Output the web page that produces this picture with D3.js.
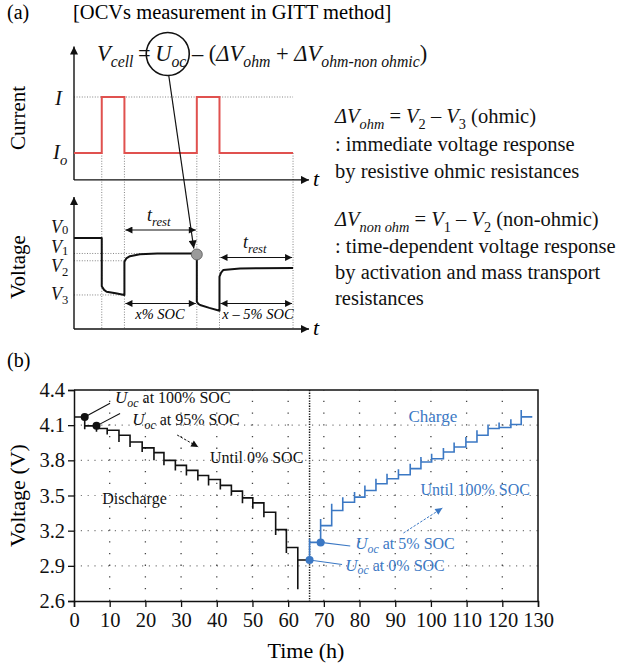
<!DOCTYPE html>
<html>
<head>
<meta charset="utf-8">
<script src="https://cdn.jsdelivr.net/npm/d3@7"></script>
<style>
  body { margin: 0; background: #fff; }
  svg text { font-family: "Liberation Serif", "Times New Roman", serif; white-space: pre; }
</style>
</head>
<body>
<svg id="fig" width="626" height="667"></svg>
<script>
// ---------- panel (b) data: GITT voltage record ----------
// discharge: pulse start times (h), rest levels (V), bottom of each pulse spike (V)
const disTimes = [3.0, 6.3, 9.3, 12.6, 15.7, 19.1, 22.4, 25.2, 28.4, 31.5, 34.7, 37.7, 41.0, 44.1, 47.2, 50.1, 53.2, 56.5, 59.5, 62.7]
const disLevels = [4.17, 4.094, 4.071, 4.057, 4.014, 3.957, 3.906, 3.866, 3.80, 3.757, 3.714, 3.671, 3.637, 3.586, 3.537, 3.48, 3.437, 3.357, 3.209, 3.057, 2.95]
const disSpikes = [4.066, 4.043, 4.02, 3.957, 3.914, 3.871, 3.80, 3.757, 3.714, 3.671, 3.629, 3.586, 3.551, 3.50, 3.434, 3.386, 3.314, 3.163, 3.009, 2.70]
const disEnd = 66

// charge: pulse start times (h), rest levels (V), top of each pulse spike (V)
const chgTimes = [66.0, 69.1, 72.2, 75.3, 78.6, 81.5, 84.6, 87.7, 90.9, 94.2, 97.2, 100.2, 103.5, 106.5, 109.8, 112.9, 116.0, 119.1, 122.4, 125.3]
const chgLevels = [2.95, 3.10, 3.243, 3.372, 3.443, 3.486, 3.543, 3.60, 3.643, 3.677, 3.729, 3.786, 3.814, 3.871, 3.914, 3.957, 4.014, 4.071, 4.08, 4.106, 4.171]
const chgSpikes = [3.13, 3.30, 3.43, 3.486, 3.529, 3.586, 3.643, 3.686, 3.723, 3.771, 3.829, 3.857, 3.906, 3.952, 4.0, 4.057, 4.106, 4.123, 4.151, 4.229]
const chgEnd = 128.4

const switchTime = 66
const xTicks = [0, 10, 20, 30, 40, 50, 60, 70, 80, 90, 100, 110, 120, 130]
const yTicks = [2.6, 2.9, 3.2, 3.5, 3.8, 4.1, 4.4]

// OCV markers and their labels (label anchor = where the leader line ends)
const uocLabels = ["100%", "95%", "0%", "5%"]
const uocT = [3.0, 6.3, 66.0, 69.1]
const uocV = [4.17, 4.094, 2.95, 3.10]
const uocLeadT = [10.1, 12.9, 75.1, 77.4]
const uocLeadV = [4.287, 4.20, 2.912, 3.069]
const uocTextT = [11.5, 16.3, 76.0, 78.8]
const uocTextV = [4.289, 4.10, 2.858, 3.045]

// ---------- panel (a) schematic data (arbitrary units) ----------
const pulses = [[1.2, 2.18], [5.31, 6.29]]
const schemEnd = 9.47
const volT = [0, 1.2, 1.2, 1.3, 1.41, 1.8, 2.18, 2.18, 2.26, 2.42, 2.85, 3.6, 5.31, 5.31, 5.38, 5.45, 5.85, 6.29, 6.29, 6.36, 6.45, 7.18, 8.0, 9.47]
const volV = [1.0, 1.0, 0.47, 0.43, 0.41, 0.392, 0.374, 0.74, 0.775, 0.80, 0.822, 0.83, 0.83, 0.30, 0.275, 0.264, 0.232, 0.20, 0.575, 0.62, 0.648, 0.665, 0.668, 0.67]
const vLevels = [1.0, 0.83, 0.75, 0.374]

const svg = d3.select("#fig")
const ink = "#111"
const blue = "#3b78c4"
const red = "#e0514f"

const defs = svg.append("defs")
function arrowMarker(id, color, w, h) {
  defs.append("marker")
    .attr("id", id)
    .attr("viewBox", "0 0 10 10")
    .attr("refX", 10).attr("refY", 5)
    .attr("markerUnits", "userSpaceOnUse")
    .attr("markerWidth", w).attr("markerHeight", h)
    .attr("orient", "auto-start-reverse")
    .append("path").attr("d", "M0,0L10,5L0,10Z").attr("fill", color)
}
arrowMarker("arr", ink, 10, 8)
arrowMarker("arrS", ink, 8, 7)
arrowMarker("arrB", blue, 8, 7)

// rich text with italic / subscript parts: [text, flags] flags: i = italic, s = subscript
function rich(sel, x, y, size, parts, fill, anchor, drop) {
  const txt = sel.append("text").attr("x", x).attr("y", y)
    .attr("font-size", size).attr("fill", fill || ink)
    .attr("text-anchor", anchor || "start")
  let cur = 0
  parts.forEach(([s, f = ""]) => {
    const off = f.includes("s") ? size * (drop || 0.28) : 0
    const span = txt.append("tspan").text(s).attr("dy", off - cur)
    cur = off
    if (f.includes("i")) span.attr("font-style", "italic")
    if (f.includes("s")) span.attr("font-size", size * 0.7)
  })
  return txt
}

// =================== panel (a) ===================
const gA = svg.append("g")
gA.append("text").attr("x", 7).attr("y", 19).attr("font-size", 20).text("(a)")
gA.append("text").attr("x", 73).attr("y", 19).attr("font-size", 20.5).text("[OCVs measurement in GITT method]")

const xA = d3.scaleLinear([0, 10], [74, 305.3])
const yCur = d3.scaleLinear([0, 1], [153, 97])
const yVol = d3.scaleLinear([0, 1], [329, 238])

// dotted guide lines
function guide(x1, y1, x2, y2) {
  gA.append("line").attr("x1", x1).attr("y1", y1).attr("x2", x2).attr("y2", y2)
    .attr("stroke", "#777").attr("stroke-width", 0.9).attr("stroke-dasharray", "1,1.6")
}
guide(xA(0), yCur(1), xA(schemEnd), yCur(1))
pulses.flat().concat([schemEnd]).forEach(t => guide(xA(t), yCur(0), xA(t), yVol(0)))
guide(xA(0), yVol(vLevels[1]), xA(pulses[1][0]), yVol(vLevels[1]))
guide(xA(0), yVol(vLevels[2]), xA(pulses[0][1]), yVol(vLevels[2]))
guide(xA(0), yVol(vLevels[3]), xA(pulses[0][1]), yVol(vLevels[3]))

// axes with arrows
function axisArrow(x1, y1, x2, y2) {
  gA.append("line").attr("x1", x1).attr("y1", y1).attr("x2", x2).attr("y2", y2)
    .attr("stroke", ink).attr("stroke-width", 1.4).attr("marker-end", "url(#arr)")
}
axisArrow(xA(0), yCur(-0.48), xA(0), yCur(1.9))
axisArrow(xA(0), yCur(-0.48), 309, yCur(-0.48))
axisArrow(xA(0), yVol(0), xA(0), yVol(1.45))
axisArrow(xA(0), yVol(0), 309, yVol(0))
gA.append("text").attr("x", 313).attr("y", yCur(-0.48) + 6).attr("font-size", 22).attr("font-style", "italic").text("t")
gA.append("text").attr("x", 313).attr("y", yVol(0) + 6).attr("font-size", 22).attr("font-style", "italic").text("t")

gA.append("text").attr("transform", "translate(25,118) rotate(-90)").attr("text-anchor", "middle")
  .attr("font-size", 21).text("Current")
gA.append("text").attr("transform", "translate(25,267) rotate(-90)").attr("text-anchor", "middle")
  .attr("font-size", 21).text("Voltage")

rich(gA, 55, 105, 21, [["I", "i"]])
rich(gA, 53, 159, 21, [["I", "i"], ["o", "is"]])
rich(gA, 51, 233, 18, [["V", "i"], ["0", "s"]], ink, "start", 0.08)
rich(gA, 51, 253, 18, [["V", "i"], ["1", "s"]], ink, "start", 0.1)
rich(gA, 51, 272, 18, [["V", "i"], ["2", "s"]], ink, "start", 0.2)
rich(gA, 51, 300, 18, [["V", "i"], ["3", "s"]], ink, "start", 0.22)

// current pulses
const curPts = [[0, 0]]
pulses.forEach(([a, b]) => curPts.push([a, 0], [a, 1], [b, 1], [b, 0]))
curPts.push([schemEnd, 0])
gA.append("path")
  .attr("d", d3.line().x(d => xA(d[0])).y(d => yCur(d[1]))(curPts))
  .attr("fill", "none").attr("stroke", red).attr("stroke-width", 2)

// voltage response
gA.append("path")
  .attr("d", d3.line().x((d, i) => xA(volT[i])).y((d, i) => yVol(volV[i]))(volT))
  .attr("fill", "none").attr("stroke", ink).attr("stroke-width", 2).attr("stroke-linejoin", "round")

// double arrows
function dbl(t1, t2, y) {
  gA.append("line").attr("x1", xA(t1) + 1).attr("x2", xA(t2) - 1).attr("y1", y).attr("y2", y)
    .attr("stroke", ink).attr("stroke-width", 1.2)
    .attr("marker-start", "url(#arrS)").attr("marker-end", "url(#arrS)")
}
dbl(pulses[0][1], pulses[1][0], 230)
dbl(pulses[1][1], schemEnd, 257.5)
dbl(pulses[0][1], pulses[1][0], 303.5)
dbl(pulses[1][1], schemEnd, 303.5)
rich(gA, 147, 221, 18, [["t", "i"], ["rest", "is"]])
rich(gA, 243, 248, 18, [["t", "i"], ["rest", "is"]])
gA.append("text").attr("x", 160).attr("y", 319).attr("text-anchor", "middle")
  .attr("font-size", 14.5).attr("font-style", "italic").text("x% SOC")
gA.append("text").attr("x", 258).attr("y", 319).attr("text-anchor", "middle")
  .attr("font-size", 14.5).attr("font-style", "italic").text("x – 5% SOC")

// formula with U_oc circled
const formula = rich(gA, 97, 61, 22.5, [["V", "i"], ["cell", "is"], ["\u2009=\u2009"], ["U", "i"], ["oc", "is"], [" – ("], ["ΔV", "i"], ["ohm", "is"],
  [" + "], ["ΔV", "i"], ["ohm-non ohmic", "is"], [")"]])
let ringX = 160
try {
  const spans = formula.selectAll("tspan").nodes()
  const bU = spans[3].getBBox(), bO = spans[4].getBBox()
  ringX = (bU.x + bO.x + bO.width) / 2 - 3
} catch (e) { }
gA.append("circle").attr("cx", ringX).attr("cy", 54).attr("r", 21.5)
  .attr("fill", "none").attr("stroke", ink).attr("stroke-width", 1.6)
gA.append("circle").attr("cx", xA(pulses[1][0])).attr("cy", yVol(vLevels[1]) + 1).attr("r", 5.5)
  .attr("fill", "#9a9a9a").attr("stroke", "#555").attr("stroke-width", 0.8)
gA.append("line").attr("x1", ringX + 1).attr("y1", 75.5)
  .attr("x2", xA(pulses[1][0]) - 3).attr("y2", yVol(vLevels[1]) - 5)
  .attr("stroke", ink).attr("stroke-width", 1.2).attr("marker-end", "url(#arr)")

// explanation text
const ex = 335
const exSize = 20.5
rich(gA, ex, 123, exSize, [["ΔV", "i"], ["ohm", "is"], [" = "], ["V", "i"], ["2", "s"], [" – "], ["V", "i"], ["3", "s"], [" (ohmic)"]])
rich(gA, ex, 151, exSize, [[": immediate voltage response"]])
rich(gA, ex, 178, exSize, [["by resistive ohmic resistances"]])
rich(gA, ex, 226, exSize, [["ΔV", "i"], ["non ohm", "is"], [" = "], ["V", "i"], ["1", "s"], [" – "], ["V", "i"], ["2", "s"], [" (non-ohmic)"]])
rich(gA, ex, 253, exSize, [[": time-dependent voltage response"]])
rich(gA, ex, 279, exSize, [["by activation and mass transport"]])
rich(gA, ex, 305, exSize, [["resistances"]])

// =================== panel (b) ===================
const gB = svg.append("g")
gB.append("text").attr("x", 7).attr("y", 367).attr("font-size", 20).text("(b)")

const x = d3.scaleLinear([0, 130], [74, 538])
const y = d3.scaleLinear([2.6, 4.4], [601, 390])

// grid
gB.append("g").selectAll("line").data(yTicks.slice(1, -1)).join("line")
  .attr("x1", x(0)).attr("x2", x(130)).attr("y1", d => y(d)).attr("y2", d => y(d))
  .attr("stroke", "#7a7a7a").attr("stroke-width", 1.2).attr("stroke-dasharray", "1.2,5.6")
gB.append("g").selectAll("line").data(xTicks.slice(1, -1)).join("line")
  .attr("x1", d => x(d)).attr("x2", d => x(d)).attr("y1", y(2.6)).attr("y2", y(4.4))
  .attr("stroke", "#444").attr("stroke-width", 1.3).attr("stroke-dasharray", "1.3,10.4")

// switch line
gB.append("line").attr("x1", x(switchTime)).attr("x2", x(switchTime)).attr("y1", y(4.4)).attr("y2", y(2.6))
  .attr("stroke", ink).attr("stroke-width", 1.5).attr("stroke-dasharray", "1.3,1.3")

// axes
const axB = gB.append("g").attr("transform", `translate(0,${y(2.6)})`)
  .call(d3.axisBottom(x).tickValues(xTicks).tickSize(6).tickPadding(5).tickFormat(d3.format("d")))
const axL = gB.append("g").attr("transform", `translate(${x(0)},0)`)
  .call(d3.axisLeft(y).tickValues(yTicks).tickSize(6).tickPadding(3).tickFormat(d3.format(".1f")))
;[axB, axL].forEach(a => {
  a.select(".domain").attr("stroke", ink).attr("stroke-width", 1.5)
  a.selectAll(".tick line").attr("stroke", ink).attr("stroke-width", 1.3)
  a.selectAll(".tick text").attr("font-size", 20.5).attr("fill", ink)
})
gB.append("path")
  .attr("d", `M${x(0)},${y(4.4)}H${x(130)}V${y(2.6)}`)
  .attr("fill", "none").attr("stroke", ink).attr("stroke-width", 1.5)

gB.append("text").attr("x", (x(0) + x(130)) / 2).attr("y", 658).attr("text-anchor", "middle")
  .attr("font-size", 22).text("Time (h)")
gB.append("text").attr("transform", `translate(25,${(y(2.6) + y(4.4)) / 2}) rotate(-90)`)
  .attr("text-anchor", "middle").attr("font-size", 22).text("Voltage (V)")

// step curves
function stepPoints(times, levels, spikes, tEnd) {
  const pts = [[times[0] === switchTime ? switchTime : 0, levels[0]]]
  times.forEach((t, i) => pts.push([t, levels[i]], [t, spikes[i]], [t, levels[i + 1]]))
  pts.push([tEnd, levels[levels.length - 1]])
  return pts
}
const stepLine = d3.line().x(d => x(d[0])).y(d => y(d[1]))
gB.append("path").attr("d", stepLine(stepPoints(disTimes, disLevels, disSpikes, disEnd)))
  .attr("fill", "none").attr("stroke", ink).attr("stroke-width", 1.6)
gB.append("path").attr("d", stepLine(stepPoints(chgTimes, chgLevels, chgSpikes, chgEnd)))
  .attr("fill", "none").attr("stroke", blue).attr("stroke-width", 1.6)

// OCV markers with labels
uocLabels.forEach((lab, i) => {
  const col = uocT[i] >= switchTime ? blue : ink
  gB.append("line").attr("x1", x(uocT[i])).attr("y1", y(uocV[i]))
    .attr("x2", x(uocLeadT[i])).attr("y2", y(uocLeadV[i]))
    .attr("stroke", col).attr("stroke-width", 1.1)
  gB.append("circle").attr("cx", x(uocT[i])).attr("cy", y(uocV[i])).attr("r", 4)
    .attr("fill", col)
  rich(gB, x(uocTextT[i]), y(uocTextV[i]), 17,
    [["U", "i"], ["oc", "is"], [" at " + lab + " SOC"]], col, "start", 0.22)
    .selectAll("tspan").filter((d, j) => j === 2).attr("font-size", 16)
})

// direction notes
gB.append("line").attr("x1", x(28.9)).attr("y1", y(4.016)).attr("x2", x(34.8)).attr("y2", y(3.914))
  .attr("stroke", ink).attr("stroke-width", 1).attr("stroke-dasharray", "2.5,1.5").attr("marker-end", "url(#arrS)")
gB.append("line").attr("x1", x(92.3)).attr("y1", y(3.18)).attr("x2", x(103.2)).attr("y2", y(3.393))
  .attr("stroke", blue).attr("stroke-width", 1).attr("stroke-dasharray", "2.5,1.5").attr("marker-end", "url(#arrB)")
gB.append("text").attr("x", x(38.1)).attr("y", y(3.78)).attr("font-size", 16).attr("fill", ink).text("Until 0% SOC")
gB.append("text").attr("x", x(7.9)).attr("y", y(3.427)).attr("font-size", 16).attr("fill", ink).text("Discharge")
gB.append("text").attr("x", x(93.7)).attr("y", y(4.13)).attr("font-size", 17).attr("fill", blue).text("Charge")
gB.append("text").attr("x", x(97.1)).attr("y", y(3.504)).attr("font-size", 16).attr("fill", blue).text("Until 100% SOC")
</script>
</body>
</html>
